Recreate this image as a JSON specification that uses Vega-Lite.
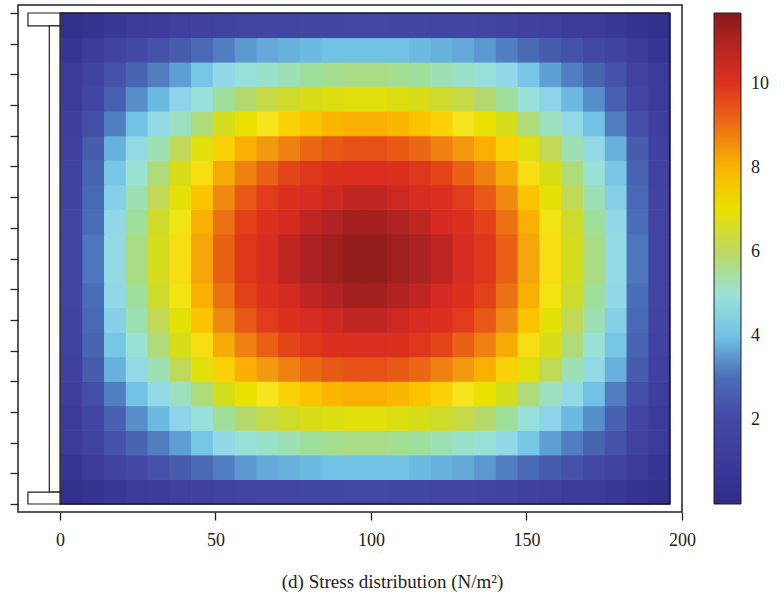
{
"$schema":"https://vega.github.io/schema/vega-lite/v6.json",
"width":664,"height":507,"autosize":"none",
"padding":{"left":18,"top":5,"right":102,"bottom":81},
"background":"white",
"config":{"view":{"stroke":"#222","strokeWidth":1.5},"font":"Liberation Serif"},
"datasets":{
"s":[{"x":-10.3,"x2":0,"y":15.58,"y2":16},{"x":-3.44,"x2":0,"y":0.39,"y2":15.58},{"x":-10.3,"x2":0,"y":0,"y2":0.39}],
"f":[{"x":0,"x2":196,"y":0,"y2":16}],
"g":[
{"x":0,"y":0,"v":0.3},{"x":7,"y":0,"v":0.5},{"x":14,"y":0,"v":0.8},{"x":21,"y":0,"v":1.0},{"x":28,"y":0,"v":1.1},{"x":35,"y":0,"v":1.3},{"x":42,"y":0,"v":1.4},{"x":49,"y":0,"v":1.6},{"x":56,"y":0,"v":1.7},{"x":63,"y":0,"v":1.8},{"x":70,"y":0,"v":1.8},{"x":77,"y":0,"v":1.9},{"x":84,"y":0,"v":1.9},{"x":91,"y":0,"v":2.0},{"x":98,"y":0,"v":2.0},{"x":105,"y":0,"v":1.9},{"x":112,"y":0,"v":1.9},{"x":119,"y":0,"v":1.8},{"x":126,"y":0,"v":1.8},{"x":133,"y":0,"v":1.7},{"x":140,"y":0,"v":1.6},{"x":147,"y":0,"v":1.4},{"x":154,"y":0,"v":1.3},{"x":161,"y":0,"v":1.1},{"x":168,"y":0,"v":1.0},{"x":175,"y":0,"v":0.8},{"x":182,"y":0,"v":0.5},{"x":189,"y":0,"v":0.3},
{"x":0,"y":0.8,"v":0.6},{"x":7,"y":0.8,"v":1.1},{"x":14,"y":0.8,"v":1.6},{"x":21,"y":0.8,"v":2.0},{"x":28,"y":0.8,"v":2.3},{"x":35,"y":0.8,"v":2.6},{"x":42,"y":0.8,"v":2.9},{"x":49,"y":0.8,"v":3.2},{"x":56,"y":0.8,"v":3.5},{"x":63,"y":0.8,"v":3.7},{"x":70,"y":0.8,"v":3.8},{"x":77,"y":0.8,"v":3.9},{"x":84,"y":0.8,"v":4.0},{"x":91,"y":0.8,"v":4.0},{"x":98,"y":0.8,"v":4.0},{"x":105,"y":0.8,"v":4.0},{"x":112,"y":0.8,"v":3.9},{"x":119,"y":0.8,"v":3.8},{"x":126,"y":0.8,"v":3.7},{"x":133,"y":0.8,"v":3.5},{"x":140,"y":0.8,"v":3.2},{"x":147,"y":0.8,"v":2.9},{"x":154,"y":0.8,"v":2.6},{"x":161,"y":0.8,"v":2.3},{"x":168,"y":0.8,"v":2.0},{"x":175,"y":0.8,"v":1.6},{"x":182,"y":0.8,"v":1.1},{"x":189,"y":0.8,"v":0.6},
{"x":0,"y":1.6,"v":0.9},{"x":7,"y":1.6,"v":1.5},{"x":14,"y":1.6,"v":2.3},{"x":21,"y":1.6,"v":2.8},{"x":28,"y":1.6,"v":3.2},{"x":35,"y":1.6,"v":3.6},{"x":42,"y":1.6,"v":4.1},{"x":49,"y":1.6,"v":4.5},{"x":56,"y":1.6,"v":4.9},{"x":63,"y":1.6,"v":5.1},{"x":70,"y":1.6,"v":5.3},{"x":77,"y":1.6,"v":5.5},{"x":84,"y":1.6,"v":5.6},{"x":91,"y":1.6,"v":5.7},{"x":98,"y":1.6,"v":5.7},{"x":105,"y":1.6,"v":5.6},{"x":112,"y":1.6,"v":5.5},{"x":119,"y":1.6,"v":5.3},{"x":126,"y":1.6,"v":5.1},{"x":133,"y":1.6,"v":4.9},{"x":140,"y":1.6,"v":4.5},{"x":147,"y":1.6,"v":4.1},{"x":154,"y":1.6,"v":3.6},{"x":161,"y":1.6,"v":3.2},{"x":168,"y":1.6,"v":2.8},{"x":175,"y":1.6,"v":2.3},{"x":182,"y":1.6,"v":1.5},{"x":189,"y":1.6,"v":0.9},
{"x":0,"y":2.4,"v":1.0},{"x":7,"y":2.4,"v":1.8},{"x":14,"y":2.4,"v":2.7},{"x":21,"y":2.4,"v":3.4},{"x":28,"y":2.4,"v":3.9},{"x":35,"y":2.4,"v":4.4},{"x":42,"y":2.4,"v":4.9},{"x":49,"y":2.4,"v":5.5},{"x":56,"y":2.4,"v":5.9},{"x":63,"y":2.4,"v":6.2},{"x":70,"y":2.4,"v":6.4},{"x":77,"y":2.4,"v":6.6},{"x":84,"y":2.4,"v":6.7},{"x":91,"y":2.4,"v":6.8},{"x":98,"y":2.4,"v":6.8},{"x":105,"y":2.4,"v":6.7},{"x":112,"y":2.4,"v":6.6},{"x":119,"y":2.4,"v":6.4},{"x":126,"y":2.4,"v":6.2},{"x":133,"y":2.4,"v":5.9},{"x":140,"y":2.4,"v":5.5},{"x":147,"y":2.4,"v":4.9},{"x":154,"y":2.4,"v":4.4},{"x":161,"y":2.4,"v":3.9},{"x":168,"y":2.4,"v":3.4},{"x":175,"y":2.4,"v":2.7},{"x":182,"y":2.4,"v":1.8},{"x":189,"y":2.4,"v":1.0},
{"x":0,"y":3.2,"v":1.2},{"x":7,"y":3.2,"v":2.2},{"x":14,"y":3.2,"v":3.2},{"x":21,"y":3.2,"v":4.0},{"x":28,"y":3.2,"v":4.6},{"x":35,"y":3.2,"v":5.2},{"x":42,"y":3.2,"v":5.8},{"x":49,"y":3.2,"v":6.5},{"x":56,"y":3.2,"v":7.0},{"x":63,"y":3.2,"v":7.3},{"x":70,"y":3.2,"v":7.6},{"x":77,"y":3.2,"v":7.8},{"x":84,"y":3.2,"v":8.0},{"x":91,"y":3.2,"v":8.1},{"x":98,"y":3.2,"v":8.1},{"x":105,"y":3.2,"v":8.0},{"x":112,"y":3.2,"v":7.8},{"x":119,"y":3.2,"v":7.6},{"x":126,"y":3.2,"v":7.3},{"x":133,"y":3.2,"v":7.0},{"x":140,"y":3.2,"v":6.5},{"x":147,"y":3.2,"v":5.8},{"x":154,"y":3.2,"v":5.2},{"x":161,"y":3.2,"v":4.6},{"x":168,"y":3.2,"v":4.0},{"x":175,"y":3.2,"v":3.2},{"x":182,"y":3.2,"v":2.2},{"x":189,"y":3.2,"v":1.2},
{"x":0,"y":4,"v":1.4},{"x":7,"y":4,"v":2.6},{"x":14,"y":4,"v":3.8},{"x":21,"y":4,"v":4.6},{"x":28,"y":4,"v":5.3},{"x":35,"y":4,"v":6.1},{"x":42,"y":4,"v":6.8},{"x":49,"y":4,"v":7.6},{"x":56,"y":4,"v":8.1},{"x":63,"y":4,"v":8.5},{"x":70,"y":4,"v":8.8},{"x":77,"y":4,"v":9.1},{"x":84,"y":4,"v":9.3},{"x":91,"y":4,"v":9.4},{"x":98,"y":4,"v":9.4},{"x":105,"y":4,"v":9.3},{"x":112,"y":4,"v":9.1},{"x":119,"y":4,"v":8.8},{"x":126,"y":4,"v":8.5},{"x":133,"y":4,"v":8.1},{"x":140,"y":4,"v":7.6},{"x":147,"y":4,"v":6.8},{"x":154,"y":4,"v":6.1},{"x":161,"y":4,"v":5.3},{"x":168,"y":4,"v":4.6},{"x":175,"y":4,"v":3.8},{"x":182,"y":4,"v":2.6},{"x":189,"y":4,"v":1.4},
{"x":0,"y":4.8,"v":1.5},{"x":7,"y":4.8,"v":2.8},{"x":14,"y":4.8,"v":4.1},{"x":21,"y":4.8,"v":5.0},{"x":28,"y":4.8,"v":5.8},{"x":35,"y":4.8,"v":6.6},{"x":42,"y":4.8,"v":7.4},{"x":49,"y":4.8,"v":8.2},{"x":56,"y":4.8,"v":8.8},{"x":63,"y":4.8,"v":9.2},{"x":70,"y":4.8,"v":9.6},{"x":77,"y":4.8,"v":9.9},{"x":84,"y":4.8,"v":10.1},{"x":91,"y":4.8,"v":10.2},{"x":98,"y":4.8,"v":10.2},{"x":105,"y":4.8,"v":10.1},{"x":112,"y":4.8,"v":9.9},{"x":119,"y":4.8,"v":9.6},{"x":126,"y":4.8,"v":9.2},{"x":133,"y":4.8,"v":8.8},{"x":140,"y":4.8,"v":8.2},{"x":147,"y":4.8,"v":7.4},{"x":154,"y":4.8,"v":6.6},{"x":161,"y":4.8,"v":5.8},{"x":168,"y":4.8,"v":5.0},{"x":175,"y":4.8,"v":4.1},{"x":182,"y":4.8,"v":2.8},{"x":189,"y":4.8,"v":1.5},
{"x":0,"y":5.6,"v":1.6},{"x":7,"y":5.6,"v":2.9},{"x":14,"y":5.6,"v":4.3},{"x":21,"y":5.6,"v":5.3},{"x":28,"y":5.6,"v":6.1},{"x":35,"y":5.6,"v":6.9},{"x":42,"y":5.6,"v":7.8},{"x":49,"y":5.6,"v":8.7},{"x":56,"y":5.6,"v":9.3},{"x":63,"y":5.6,"v":9.8},{"x":70,"y":5.6,"v":10.1},{"x":77,"y":5.6,"v":10.4},{"x":84,"y":5.6,"v":10.6},{"x":91,"y":5.6,"v":10.8},{"x":98,"y":5.6,"v":10.8},{"x":105,"y":5.6,"v":10.6},{"x":112,"y":5.6,"v":10.4},{"x":119,"y":5.6,"v":10.1},{"x":126,"y":5.6,"v":9.8},{"x":133,"y":5.6,"v":9.3},{"x":140,"y":5.6,"v":8.7},{"x":147,"y":5.6,"v":7.8},{"x":154,"y":5.6,"v":6.9},{"x":161,"y":5.6,"v":6.1},{"x":168,"y":5.6,"v":5.3},{"x":175,"y":5.6,"v":4.3},{"x":182,"y":5.6,"v":2.9},{"x":189,"y":5.6,"v":1.6},
{"x":0,"y":6.4,"v":1.7},{"x":7,"y":6.4,"v":3.0},{"x":14,"y":6.4,"v":4.5},{"x":21,"y":6.4,"v":5.5},{"x":28,"y":6.4,"v":6.4},{"x":35,"y":6.4,"v":7.2},{"x":42,"y":6.4,"v":8.1},{"x":49,"y":6.4,"v":9.0},{"x":56,"y":6.4,"v":9.7},{"x":63,"y":6.4,"v":10.1},{"x":70,"y":6.4,"v":10.5},{"x":77,"y":6.4,"v":10.8},{"x":84,"y":6.4,"v":11.0},{"x":91,"y":6.4,"v":11.2},{"x":98,"y":6.4,"v":11.2},{"x":105,"y":6.4,"v":11.0},{"x":112,"y":6.4,"v":10.8},{"x":119,"y":6.4,"v":10.5},{"x":126,"y":6.4,"v":10.1},{"x":133,"y":6.4,"v":9.7},{"x":140,"y":6.4,"v":9.0},{"x":147,"y":6.4,"v":8.1},{"x":154,"y":6.4,"v":7.2},{"x":161,"y":6.4,"v":6.4},{"x":168,"y":6.4,"v":5.5},{"x":175,"y":6.4,"v":4.5},{"x":182,"y":6.4,"v":3.0},{"x":189,"y":6.4,"v":1.7},
{"x":0,"y":7.2,"v":1.7},{"x":7,"y":7.2,"v":3.1},{"x":14,"y":7.2,"v":4.6},{"x":21,"y":7.2,"v":5.7},{"x":28,"y":7.2,"v":6.5},{"x":35,"y":7.2,"v":7.4},{"x":42,"y":7.2,"v":8.3},{"x":49,"y":7.2,"v":9.2},{"x":56,"y":7.2,"v":9.9},{"x":63,"y":7.2,"v":10.4},{"x":70,"y":7.2,"v":10.8},{"x":77,"y":7.2,"v":11.1},{"x":84,"y":7.2,"v":11.3},{"x":91,"y":7.2,"v":11.5},{"x":98,"y":7.2,"v":11.5},{"x":105,"y":7.2,"v":11.3},{"x":112,"y":7.2,"v":11.1},{"x":119,"y":7.2,"v":10.8},{"x":126,"y":7.2,"v":10.4},{"x":133,"y":7.2,"v":9.9},{"x":140,"y":7.2,"v":9.2},{"x":147,"y":7.2,"v":8.3},{"x":154,"y":7.2,"v":7.4},{"x":161,"y":7.2,"v":6.5},{"x":168,"y":7.2,"v":5.7},{"x":175,"y":7.2,"v":4.6},{"x":182,"y":7.2,"v":3.1},{"x":189,"y":7.2,"v":1.7},
{"x":0,"y":8,"v":1.7},{"x":7,"y":8,"v":3.1},{"x":14,"y":8,"v":4.6},{"x":21,"y":8,"v":5.7},{"x":28,"y":8,"v":6.5},{"x":35,"y":8,"v":7.4},{"x":42,"y":8,"v":8.3},{"x":49,"y":8,"v":9.2},{"x":56,"y":8,"v":9.9},{"x":63,"y":8,"v":10.4},{"x":70,"y":8,"v":10.8},{"x":77,"y":8,"v":11.1},{"x":84,"y":8,"v":11.3},{"x":91,"y":8,"v":11.5},{"x":98,"y":8,"v":11.5},{"x":105,"y":8,"v":11.3},{"x":112,"y":8,"v":11.1},{"x":119,"y":8,"v":10.8},{"x":126,"y":8,"v":10.4},{"x":133,"y":8,"v":9.9},{"x":140,"y":8,"v":9.2},{"x":147,"y":8,"v":8.3},{"x":154,"y":8,"v":7.4},{"x":161,"y":8,"v":6.5},{"x":168,"y":8,"v":5.7},{"x":175,"y":8,"v":4.6},{"x":182,"y":8,"v":3.1},{"x":189,"y":8,"v":1.7},
{"x":0,"y":8.8,"v":1.7},{"x":7,"y":8.8,"v":3.0},{"x":14,"y":8.8,"v":4.5},{"x":21,"y":8.8,"v":5.5},{"x":28,"y":8.8,"v":6.4},{"x":35,"y":8.8,"v":7.2},{"x":42,"y":8.8,"v":8.1},{"x":49,"y":8.8,"v":9.0},{"x":56,"y":8.8,"v":9.7},{"x":63,"y":8.8,"v":10.1},{"x":70,"y":8.8,"v":10.5},{"x":77,"y":8.8,"v":10.8},{"x":84,"y":8.8,"v":11.0},{"x":91,"y":8.8,"v":11.2},{"x":98,"y":8.8,"v":11.2},{"x":105,"y":8.8,"v":11.0},{"x":112,"y":8.8,"v":10.8},{"x":119,"y":8.8,"v":10.5},{"x":126,"y":8.8,"v":10.1},{"x":133,"y":8.8,"v":9.7},{"x":140,"y":8.8,"v":9.0},{"x":147,"y":8.8,"v":8.1},{"x":154,"y":8.8,"v":7.2},{"x":161,"y":8.8,"v":6.4},{"x":168,"y":8.8,"v":5.5},{"x":175,"y":8.8,"v":4.5},{"x":182,"y":8.8,"v":3.0},{"x":189,"y":8.8,"v":1.7},
{"x":0,"y":9.6,"v":1.6},{"x":7,"y":9.6,"v":2.9},{"x":14,"y":9.6,"v":4.3},{"x":21,"y":9.6,"v":5.3},{"x":28,"y":9.6,"v":6.1},{"x":35,"y":9.6,"v":6.9},{"x":42,"y":9.6,"v":7.8},{"x":49,"y":9.6,"v":8.7},{"x":56,"y":9.6,"v":9.3},{"x":63,"y":9.6,"v":9.8},{"x":70,"y":9.6,"v":10.1},{"x":77,"y":9.6,"v":10.4},{"x":84,"y":9.6,"v":10.6},{"x":91,"y":9.6,"v":10.8},{"x":98,"y":9.6,"v":10.8},{"x":105,"y":9.6,"v":10.6},{"x":112,"y":9.6,"v":10.4},{"x":119,"y":9.6,"v":10.1},{"x":126,"y":9.6,"v":9.8},{"x":133,"y":9.6,"v":9.3},{"x":140,"y":9.6,"v":8.7},{"x":147,"y":9.6,"v":7.8},{"x":154,"y":9.6,"v":6.9},{"x":161,"y":9.6,"v":6.1},{"x":168,"y":9.6,"v":5.3},{"x":175,"y":9.6,"v":4.3},{"x":182,"y":9.6,"v":2.9},{"x":189,"y":9.6,"v":1.6},
{"x":0,"y":10.4,"v":1.5},{"x":7,"y":10.4,"v":2.8},{"x":14,"y":10.4,"v":4.1},{"x":21,"y":10.4,"v":5.0},{"x":28,"y":10.4,"v":5.8},{"x":35,"y":10.4,"v":6.6},{"x":42,"y":10.4,"v":7.4},{"x":49,"y":10.4,"v":8.2},{"x":56,"y":10.4,"v":8.8},{"x":63,"y":10.4,"v":9.2},{"x":70,"y":10.4,"v":9.6},{"x":77,"y":10.4,"v":9.9},{"x":84,"y":10.4,"v":10.1},{"x":91,"y":10.4,"v":10.2},{"x":98,"y":10.4,"v":10.2},{"x":105,"y":10.4,"v":10.1},{"x":112,"y":10.4,"v":9.9},{"x":119,"y":10.4,"v":9.6},{"x":126,"y":10.4,"v":9.2},{"x":133,"y":10.4,"v":8.8},{"x":140,"y":10.4,"v":8.2},{"x":147,"y":10.4,"v":7.4},{"x":154,"y":10.4,"v":6.6},{"x":161,"y":10.4,"v":5.8},{"x":168,"y":10.4,"v":5.0},{"x":175,"y":10.4,"v":4.1},{"x":182,"y":10.4,"v":2.8},{"x":189,"y":10.4,"v":1.5},
{"x":0,"y":11.2,"v":1.4},{"x":7,"y":11.2,"v":2.6},{"x":14,"y":11.2,"v":3.8},{"x":21,"y":11.2,"v":4.6},{"x":28,"y":11.2,"v":5.3},{"x":35,"y":11.2,"v":6.1},{"x":42,"y":11.2,"v":6.8},{"x":49,"y":11.2,"v":7.6},{"x":56,"y":11.2,"v":8.1},{"x":63,"y":11.2,"v":8.5},{"x":70,"y":11.2,"v":8.8},{"x":77,"y":11.2,"v":9.1},{"x":84,"y":11.2,"v":9.3},{"x":91,"y":11.2,"v":9.4},{"x":98,"y":11.2,"v":9.4},{"x":105,"y":11.2,"v":9.3},{"x":112,"y":11.2,"v":9.1},{"x":119,"y":11.2,"v":8.8},{"x":126,"y":11.2,"v":8.5},{"x":133,"y":11.2,"v":8.1},{"x":140,"y":11.2,"v":7.6},{"x":147,"y":11.2,"v":6.8},{"x":154,"y":11.2,"v":6.1},{"x":161,"y":11.2,"v":5.3},{"x":168,"y":11.2,"v":4.6},{"x":175,"y":11.2,"v":3.8},{"x":182,"y":11.2,"v":2.6},{"x":189,"y":11.2,"v":1.4},
{"x":0,"y":12,"v":1.2},{"x":7,"y":12,"v":2.2},{"x":14,"y":12,"v":3.2},{"x":21,"y":12,"v":4.0},{"x":28,"y":12,"v":4.6},{"x":35,"y":12,"v":5.2},{"x":42,"y":12,"v":5.8},{"x":49,"y":12,"v":6.5},{"x":56,"y":12,"v":7.0},{"x":63,"y":12,"v":7.3},{"x":70,"y":12,"v":7.6},{"x":77,"y":12,"v":7.8},{"x":84,"y":12,"v":8.0},{"x":91,"y":12,"v":8.1},{"x":98,"y":12,"v":8.1},{"x":105,"y":12,"v":8.0},{"x":112,"y":12,"v":7.8},{"x":119,"y":12,"v":7.6},{"x":126,"y":12,"v":7.3},{"x":133,"y":12,"v":7.0},{"x":140,"y":12,"v":6.5},{"x":147,"y":12,"v":5.8},{"x":154,"y":12,"v":5.2},{"x":161,"y":12,"v":4.6},{"x":168,"y":12,"v":4.0},{"x":175,"y":12,"v":3.2},{"x":182,"y":12,"v":2.2},{"x":189,"y":12,"v":1.2},
{"x":0,"y":12.8,"v":1.0},{"x":7,"y":12.8,"v":1.8},{"x":14,"y":12.8,"v":2.7},{"x":21,"y":12.8,"v":3.4},{"x":28,"y":12.8,"v":3.9},{"x":35,"y":12.8,"v":4.4},{"x":42,"y":12.8,"v":4.9},{"x":49,"y":12.8,"v":5.5},{"x":56,"y":12.8,"v":5.9},{"x":63,"y":12.8,"v":6.2},{"x":70,"y":12.8,"v":6.4},{"x":77,"y":12.8,"v":6.6},{"x":84,"y":12.8,"v":6.7},{"x":91,"y":12.8,"v":6.8},{"x":98,"y":12.8,"v":6.8},{"x":105,"y":12.8,"v":6.7},{"x":112,"y":12.8,"v":6.6},{"x":119,"y":12.8,"v":6.4},{"x":126,"y":12.8,"v":6.2},{"x":133,"y":12.8,"v":5.9},{"x":140,"y":12.8,"v":5.5},{"x":147,"y":12.8,"v":4.9},{"x":154,"y":12.8,"v":4.4},{"x":161,"y":12.8,"v":3.9},{"x":168,"y":12.8,"v":3.4},{"x":175,"y":12.8,"v":2.7},{"x":182,"y":12.8,"v":1.8},{"x":189,"y":12.8,"v":1.0},
{"x":0,"y":13.6,"v":0.9},{"x":7,"y":13.6,"v":1.5},{"x":14,"y":13.6,"v":2.3},{"x":21,"y":13.6,"v":2.8},{"x":28,"y":13.6,"v":3.2},{"x":35,"y":13.6,"v":3.6},{"x":42,"y":13.6,"v":4.1},{"x":49,"y":13.6,"v":4.5},{"x":56,"y":13.6,"v":4.9},{"x":63,"y":13.6,"v":5.1},{"x":70,"y":13.6,"v":5.3},{"x":77,"y":13.6,"v":5.5},{"x":84,"y":13.6,"v":5.6},{"x":91,"y":13.6,"v":5.7},{"x":98,"y":13.6,"v":5.7},{"x":105,"y":13.6,"v":5.6},{"x":112,"y":13.6,"v":5.5},{"x":119,"y":13.6,"v":5.3},{"x":126,"y":13.6,"v":5.1},{"x":133,"y":13.6,"v":4.9},{"x":140,"y":13.6,"v":4.5},{"x":147,"y":13.6,"v":4.1},{"x":154,"y":13.6,"v":3.6},{"x":161,"y":13.6,"v":3.2},{"x":168,"y":13.6,"v":2.8},{"x":175,"y":13.6,"v":2.3},{"x":182,"y":13.6,"v":1.5},{"x":189,"y":13.6,"v":0.9},
{"x":0,"y":14.4,"v":0.6},{"x":7,"y":14.4,"v":1.1},{"x":14,"y":14.4,"v":1.6},{"x":21,"y":14.4,"v":2.0},{"x":28,"y":14.4,"v":2.3},{"x":35,"y":14.4,"v":2.6},{"x":42,"y":14.4,"v":2.9},{"x":49,"y":14.4,"v":3.2},{"x":56,"y":14.4,"v":3.5},{"x":63,"y":14.4,"v":3.7},{"x":70,"y":14.4,"v":3.8},{"x":77,"y":14.4,"v":3.9},{"x":84,"y":14.4,"v":4.0},{"x":91,"y":14.4,"v":4.0},{"x":98,"y":14.4,"v":4.0},{"x":105,"y":14.4,"v":4.0},{"x":112,"y":14.4,"v":3.9},{"x":119,"y":14.4,"v":3.8},{"x":126,"y":14.4,"v":3.7},{"x":133,"y":14.4,"v":3.5},{"x":140,"y":14.4,"v":3.2},{"x":147,"y":14.4,"v":2.9},{"x":154,"y":14.4,"v":2.6},{"x":161,"y":14.4,"v":2.3},{"x":168,"y":14.4,"v":2.0},{"x":175,"y":14.4,"v":1.6},{"x":182,"y":14.4,"v":1.1},{"x":189,"y":14.4,"v":0.6},
{"x":0,"y":15.2,"v":0.3},{"x":7,"y":15.2,"v":0.5},{"x":14,"y":15.2,"v":0.8},{"x":21,"y":15.2,"v":1.0},{"x":28,"y":15.2,"v":1.1},{"x":35,"y":15.2,"v":1.3},{"x":42,"y":15.2,"v":1.4},{"x":49,"y":15.2,"v":1.6},{"x":56,"y":15.2,"v":1.7},{"x":63,"y":15.2,"v":1.8},{"x":70,"y":15.2,"v":1.8},{"x":77,"y":15.2,"v":1.9},{"x":84,"y":15.2,"v":1.9},{"x":91,"y":15.2,"v":2.0},{"x":98,"y":15.2,"v":2.0},{"x":105,"y":15.2,"v":1.9},{"x":112,"y":15.2,"v":1.9},{"x":119,"y":15.2,"v":1.8},{"x":126,"y":15.2,"v":1.8},{"x":133,"y":15.2,"v":1.7},{"x":140,"y":15.2,"v":1.6},{"x":147,"y":15.2,"v":1.4},{"x":154,"y":15.2,"v":1.3},{"x":161,"y":15.2,"v":1.1},{"x":168,"y":15.2,"v":1.0},{"x":175,"y":15.2,"v":0.8},{"x":182,"y":15.2,"v":0.5},{"x":189,"y":15.2,"v":0.3}
]},
"encoding":{
 "x":{"field":"x","type":"quantitative","scale":{"domain":[-13.5,200],"nice":false,"zero":false},
  "axis":{"values":[0,50,100,150,200],"domain":false,"grid":false,"tickSize":8,"tickColor":"#222","tickWidth":1.3,
   "labelFont":"Liberation Serif","labelFontSize":18,"labelColor":"#222","labelPadding":11,"labelFlush":false,
   "title":"(d) Stress distribution (N/m²)","titleFont":"Liberation Serif","titleFontSize":19,"titleFontWeight":"normal","titleColor":"#222",
   "titleX":374,"titleY":75,"titleAlign":"center","titleBaseline":"alphabetic"}},
 "y":{"field":"y","type":"quantitative","scale":{"domain":[-0.26,16.26],"nice":false,"zero":false},
  "axis":{"values":[0,1,2,3,4,5,6,7,8,9,10,11,12,13,14,15,16],"labels":false,"domain":false,"grid":false,"tickSize":8,"tickColor":"#222","tickWidth":1.3,"title":null}}
},
"layer":[
{"data":{"name":"g"},
 "mark":{"type":"rect"},
 "encoding":{
  "x":{"field":"x","type":"quantitative","bin":{"binned":true,"step":7.25},"scale":{"domain":[-13.5,200],"nice":false,"zero":false},
   "axis":{"values":[0,50,100,150,200],"domain":false,"grid":false,"tickSize":8,"tickColor":"#222","tickWidth":1.3,
    "labelFont":"Liberation Serif","labelFontSize":18,"labelColor":"#222","labelPadding":11,"labelFlush":false,
    "title":"(d) Stress distribution (N/m²)","titleFont":"Liberation Serif","titleFontSize":19,"titleFontWeight":"normal","titleColor":"#222",
    "titleX":374,"titleY":75,"titleAlign":"center","titleBaseline":"alphabetic"}},
  "y":{"field":"y","type":"quantitative","bin":{"binned":true,"step":0.82},"scale":{"domain":[-0.26,16.26],"nice":false,"zero":false},
   "axis":{"values":[0,1,2,3,4,5,6,7,8,9,10,11,12,13,14,15,16],"labels":false,"domain":false,"grid":false,"tickSize":8,"tickColor":"#222","tickWidth":1.3,"title":null}},
  "color":{"field":"v","type":"quantitative",
   "scale":{"type":"linear","interpolate":"rgb","domain":[0,1,2,2.5,3,3.5,4,4.5,5,5.5,6,6.5,7,7.3,7.7,8,8.5,9,9.5,10,10.5,11,11.7],
    "range":["#2f2a85","#3c3b9c","#4448a5","#4658ab","#4a6db7","#5a98cf","#72c2e6","#92d8e8","#9ae2d6","#9edf9c","#bcd864","#d4dc1e","#e9e100","#f6e41c","#fcca00","#fab600","#f39a10","#ec7014","#e44a16","#de321e","#d42a22","#b02322","#861a19"]},
   "legend":{"type":"gradient","orient":"none","legendX":696,"legendY":8,"title":null,"direction":"vertical","gradientLength":491,"gradientThickness":27,
    "values":[2,4,6,8,10],"labelFont":"Liberation Serif","labelFontSize":18,"labelColor":"#222","labelOffset":10,
    "gradientStrokeColor":"#222","gradientStrokeWidth":1,"padding":0}}
 }},
{"data":{"name":"f"},
 "mark":{"type":"rect","fill":"transparent","stroke":"#1a1a1a","strokeWidth":1.3},
 "encoding":{"x2":{"field":"x2"},"y2":{"field":"y2"}}},
{"data":{"name":"s"},
 "mark":{"type":"rect","fill":"white","stroke":"#222","strokeWidth":1.2},
 "encoding":{"x2":{"field":"x2"},"y2":{"field":"y2"}}}
]
}
